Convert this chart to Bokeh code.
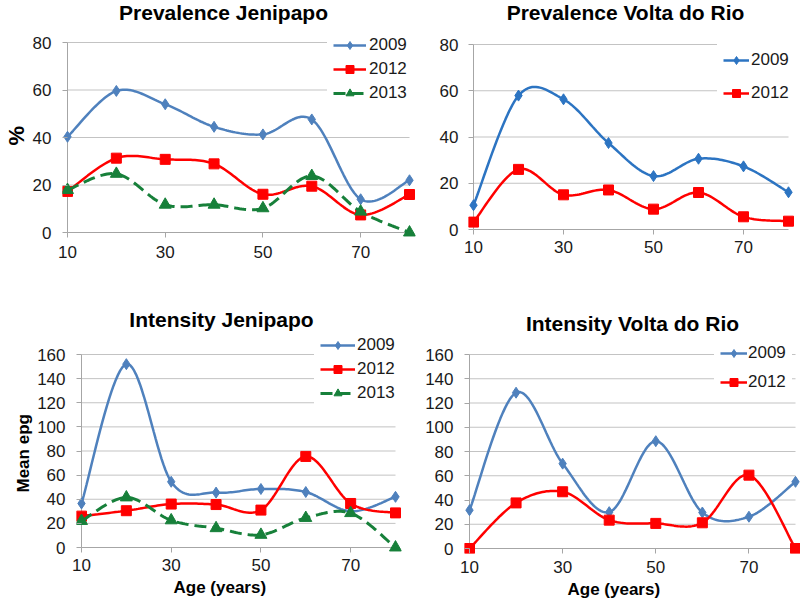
import numpy as np
from bokeh.plotting import figure
from bokeh.models import Range1d, FixedTicker, Legend, LegendItem, Label, Title
from bokeh.layouts import column, row
from bokeh.embed import file_html
from bokeh.resources import INLINE

# ---------------- data ----------------
ages = [10, 20, 30, 40, 50, 60, 70, 80]
x_tick_values = [10, 30, 50, 70]
prev_y_ticks = [0, 20, 40, 60, 80]
int_y_ticks = [0, 20, 40, 60, 80, 100, 120, 140, 160]

prev_jen_2009 = [40.3, 59.6, 54.0, 44.5, 41.3, 47.6, 14.0, 22.0]
prev_jen_2012 = [17.3, 31.3, 30.8, 28.9, 16.1, 19.5, 7.4, 16.0]
prev_jen_2013 = [17.9, 24.7, 11.7, 11.7, 10.2, 23.8, 8.8, 0.0]

prev_vdr_2009 = [10.5, 57.9, 56.3, 37.4, 23.1, 30.6, 27.3, 16.1]
prev_vdr_2012 = [3.2, 26.0, 15.0, 17.1, 8.8, 16.0, 5.5, 3.6]

int_jen_2009 = [36.5, 152.0, 54.5, 45.5, 48.5, 46.0, 30.0, 42.0]
int_jen_2012 = [26.0, 30.5, 36.0, 35.6, 31.0, 75.5, 36.5, 28.7]
int_jen_2013 = [22.0, 41.5, 22.5, 16.0, 10.5, 24.5, 28.5, 0.0]

int_vdr_2009 = [31.6, 128.5, 70.0, 30.0, 88.5, 29.7, 26.2, 55.0]
int_vdr_2012 = [0.0, 37.6, 46.8, 23.4, 20.7, 21.2, 60.5, 0.0]

# ---------------- style ----------------
FONT = "Liberation Sans"
GRID = "#C3C3C3"
AXIS = "#A6A6A6"
TXT = "#1A1A1A"
BLUE = "#4F81BD"
BLUE2 = "#2C74C2"
RED = "#FF0000"
GREEN = "#17803A"

STYLE = {
    "2009": dict(marker="diamond", size=11, width=2.5, dash="solid"),
    "2012": dict(marker="square", size=10, width=2.5, dash="solid"),
    "2013": dict(marker="triangle", size=12, width=3, dash="12 6"),
}


def smooth(xs, ys, n=24):
    """Excel-like smoothed line (Catmull-Rom Bezier) through the data points."""
    P = np.column_stack([xs, ys]).astype(float)
    m = len(P)
    t = np.linspace(0, 1, n)[:, None]
    out = []
    for i in range(m - 1):
        p0 = P[i - 1] if i > 0 else P[i]
        p1, p2 = P[i], P[i + 1]
        p3 = P[i + 2] if i + 2 < m else P[i + 1]
        c1 = p1 + (p2 - p0) / 6.0
        c2 = p2 - (p3 - p1) / 6.0
        B = (1 - t) ** 3 * p1 + 3 * (1 - t) ** 2 * t * c1 + 3 * (1 - t) * t ** 2 * c2 + t ** 3 * p2
        out.append(B if i == 0 else B[1:])
    B = np.vstack(out)
    return list(B[:, 0]), list(B[:, 1])


def panel(fig_box, data_box, frame_top, y_ticks, series, title, ylabel, xlabel,
          y_standoff, x_standoff, leg):
    fx0, fy0, fx1, fy1 = fig_box
    dl, dr, dt, db = data_box
    left, right, top, bottom = dl - 5, min(dr + 6, fx1), frame_top, db + 5
    ux = (ages[-1] - ages[0]) / (dr - dl)
    uy = (y_ticks[-1] - y_ticks[0]) / (db - dt)
    kw = {}
    kw["min_border_bottom"] = (fy1 - bottom) if fy1 is not None else 0
    p = figure(frame_width=right - left, frame_height=bottom - top,
               min_border_left=left - fx0, min_border_right=fx1 - right,
               min_border_top=top - fy0,
               x_range=Range1d(ages[0] - (dl - left) * ux, ages[-1] + (right - dr) * ux),
               y_range=Range1d(y_ticks[0] - (bottom - db) * uy, y_ticks[-1] + (dt - top) * uy),
               output_backend="svg", toolbar_location=None, **kw)
    p.outline_line_color = None
    p.xgrid.visible = False
    p.ygrid.visible = False
    p.xaxis.ticker = FixedTicker(ticks=x_tick_values)
    p.yaxis.ticker = FixedTicker(ticks=y_ticks)
    for ax in (p.xaxis[0], p.yaxis[0]):
        ax.axis_line_color = None
        ax.major_tick_in = 5
        ax.major_tick_out = 0
        ax.major_tick_line_color = AXIS
        ax.minor_tick_line_color = None
        ax.major_label_text_font = FONT
        ax.major_label_text_font_size = "17px"
        ax.major_label_text_color = TXT
    p.yaxis.major_label_standoff = y_standoff
    p.xaxis.major_label_standoff = x_standoff

    # gridlines and axis lines
    g = y_ticks[1:]
    p.segment(x0=[ages[0]] * len(g), x1=[ages[-1]] * len(g), y0=g, y1=g,
              line_color=GRID, line_width=1)
    p.segment(x0=[ages[0], ages[0]], y0=[y_ticks[0], y_ticks[0]],
              x1=[ages[-1], ages[0]], y1=[y_ticks[0], y_ticks[-1]],
              line_color=AXIS, line_width=1)

    items = []
    for name, vals, color in series:
        st = STYLE[name]
        sx, sy = smooth(ages, vals)
        r1 = p.line(sx, sy, line_color=color, line_width=st["width"], line_dash=st["dash"])
        r2 = p.scatter(ages, vals, marker=st["marker"], size=st["size"],
                       fill_color=color, line_color=color)
        items.append(LegendItem(label=name, renderers=[r1, r2]))

    # legend (invisible border so that the padding is applied)
    first_c, pitch, line_x, gw, lstand = leg
    pad, lh = 6, 20
    n = len(items)
    ltop = first_c - lh / 2 - pad
    lheight = n * lh + (n - 1) * (pitch - lh) + 2 * pad
    legend = Legend(items=items,
                    location=(line_x - pad - left, bottom - (ltop + lheight)),
                    orientation="vertical", label_text_font=FONT, label_text_font_size="17px",
                    label_text_color=TXT, glyph_width=gw, glyph_height=lh, label_height=lh,
                    label_standoff=lstand, spacing=pitch - lh, padding=pad, margin=0,
                    border_line_color="white", border_line_alpha=0.0,
                    background_fill_color="white", background_fill_alpha=1.0)
    p.add_layout(legend)

    # chart title (inside the invisible frame area)
    t_text, tX, tY = title
    p.add_layout(Label(x=tX - left, y=bottom - tY, x_units="screen", y_units="screen",
                       text=t_text, text_font=FONT, text_font_size="21px",
                       text_font_style="bold", text_color="black",
                       text_align="center", text_baseline="alphabetic", level="overlay"))
    if ylabel:
        y_text, ysize, yoff, ystand = ylabel
        p.add_layout(Title(text=y_text, align="left", offset=yoff, standoff=ystand,
                           text_font=FONT, text_font_size=ysize, text_font_style="bold",
                           text_color="black"), "left")
    if xlabel:
        x_text, xoff, xstand = xlabel
        p.add_layout(Title(text=x_text, align="left", offset=xoff, standoff=xstand,
                           text_font=FONT, text_font_size="17px", text_font_style="bold",
                           text_color="black"), "below")
    return p


p1 = panel((0, 0, 425, 290), (66, 408, 42, 232), 0, prev_y_ticks,
           [("2009", prev_jen_2009, BLUE), ("2012", prev_jen_2012, RED), ("2013", prev_jen_2013, GREEN)],
           ("Prevalence Jenipapo", 222, 12), ("%", "22px", 92, 2), None,
           11, 8, (45, 24, 332, 33, 3))

p2 = panel((425, 0, 800, 290), (472, 787, 44, 229), 0, prev_y_ticks,
           [("2009", prev_vdr_2009, BLUE2), ("2012", prev_vdr_2012, RED)],
           ("Prevalence Volta do Rio", 624, 12), None, None,
           10, 6, (60, 33, 722, 26, 2))

p3 = panel((0, 290, 415, None), (81, 395, 354, 547), 290, int_y_ticks,
           [("2009", int_jen_2009, BLUE), ("2012", int_jen_2012, RED), ("2013", int_jen_2013, GREEN)],
           ("Intensity Jenipapo", 221, 319), ("Mean epg", "17px", 60, 3), ("Age (years)", 97, 4),
           11, 6, (345, 24, 320, 35, 2))

p4 = panel((415, 290, 800, None), (469, 795, 354, 548), 290, int_y_ticks,
           [("2009", int_vdr_2009, BLUE), ("2012", int_vdr_2012, RED)],
           ("Intensity Volta do Rio", 632, 323), None, ("Age (years)", 103, 4),
           11, 7, (353, 29, 720, 27, 1))

layout = column(row(p1, p2), row(p3, p4))
open("out.html", "w").write(file_html(layout, INLINE))
